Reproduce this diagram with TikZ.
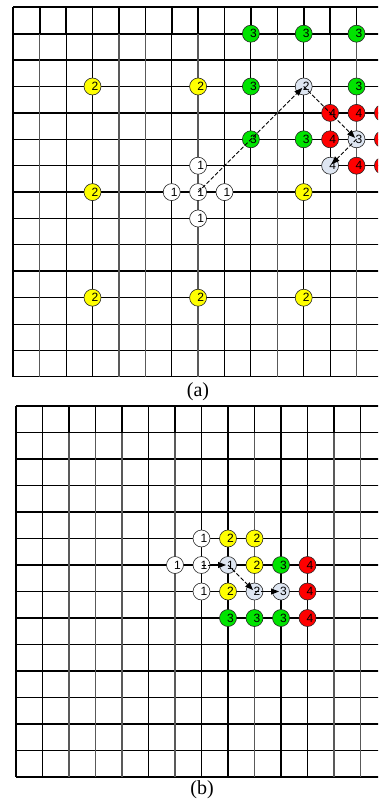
\documentclass[tikz,border=0pt]{standalone}
\usepackage{fontspec}
\setmainfont{Liberation Serif}
\newfontfamily\labfont{Liberation Sans}
\usetikzlibrary{arrows.meta}
\definecolor{cgreen}{RGB}{0,228,0}
\definecolor{cred}{RGB}{255,0,0}
\definecolor{cyel}{RGB}{255,255,0}
\definecolor{clight}{RGB}{222,230,242}
\tikzset{
  cell/.style={circle,draw=black!85,line width=0.6pt,minimum size=17pt,inner sep=0pt,
    font=\fontsize{12}{12}\selectfont\labfont,execute at begin node=\kern5pt},
  wcell/.style={cell,fill=white},
  ycell/.style={cell,fill=cyel},
  gcell/.style={cell,fill=cgreen},
  rcell/.style={cell,fill=cred},
  lcell/.style={cell,fill=clight},
  darkline/.style={black,line width=1.1pt},
  grayline/.style={black!65,line width=1.4pt},
  thickline/.style={black,line width=1.7pt},
  thinline/.style={black,line width=1.1pt},
  toprow/.style={black,line width=1.6pt},
  arr/.style={dash pattern=on 4pt off 2pt,line width=0.9pt,
    -{Triangle[length=8pt,width=6pt]},shorten >=2pt},
  captext/.style={font=\fontsize{20}{20}\selectfont}
}
\begin{document}
\begin{tikzpicture}[x=1pt,y=-1pt]
\useasboundingbox (0,0) rectangle (378,800);
\fill[white] (0,0) rectangle (378,800);
\clip (0,0) rectangle (378,800);

% ---------- grid (a) ----------
\begin{scope}[shift={(13.3pt,-7.3pt)},x=26.4pt,y=-26.4pt]
  \foreach \j in {3,5,6,8,9,11,12,14} \draw[thinline] (0,\j) -- (16,\j);
  \foreach \j in {0,1,2,4,7,10,13} \draw[thickline] (0,\j) -- (16,\j);
  \foreach \i in {2,3,6,8,9,11,12,14} \draw[darkline] (\i,0) -- (\i,14);
  \foreach \i in {1,4,5,7,10,13} \draw[grayline] (\i,0) -- (\i,14);
  \foreach \i in {1,...,14} \draw[toprow] (\i,0) -- (\i,1);
  \draw[black,line width=1.8pt] (0,0) -- (0,14);

  \foreach \i/\j in {3/3,7/3,3/7,11/7,3/11,7/11,11/11}
    \node[ycell] (a-\i-\j) at (\i,\j) {2};
  \foreach \i/\j in {9/1,11/1,13/1,9/3,13/3,9/5,11/5}
    \node[gcell] (a-\i-\j) at (\i,\j) {3};
  \foreach \i/\j in {12/4,13/4,12/5,13/6}
    \node[rcell] (a-\i-\j) at (\i,\j) {4};
  % red cells cut by the right edge (their labels lie outside the picture)
  \foreach \i/\j in {14/4,14/5,14/6}
    \node[rcell] (a-\i-\j) at (\i,\j) {};
  \foreach \i/\j in {7/6,6/7,7/7,8/7,7/8}
    \node[wcell] (a-\i-\j) at (\i,\j) {1};
  \node[lcell] (a-11-3) at (11,3) {2};
  \node[lcell] (a-13-5) at (13,5) {3};
  \node[lcell] (a-12-6) at (12,6) {4};

  \draw[arr] (a-7-7.center) -- (a-11-3.center);
  \draw[arr] (a-11-3.center) -- (a-13-5.center);
  \draw[arr] (a-13-5.center) -- (a-12-6.center);
\end{scope}

\node[captext] (capa) at (198,392) {(a)};

% ---------- grid (b) ----------
\begin{scope}[shift={(16pt,-406pt)},x=26.5pt,y=-26.5pt]
  \foreach \j in {4,5,8,10,11,13} \draw[thinline] (0,\j) -- (16,\j);
  \foreach \j in {0,1,2,3,6,7,9,12,14} \draw[thickline] (0,\j) -- (16,\j);
  \foreach \i in {1,5,7,8,10,11,14} \draw[darkline] (\i,0) -- (\i,14);
  \foreach \i in {2,3,4,6,9,12,13} \draw[grayline] (\i,0) -- (\i,14);
  \foreach \i in {1,...,14} \draw[toprow] (\i,0) -- (\i,1);
  \draw[black,line width=1.8pt] (0,0) -- (0,14);

  \foreach \i/\j in {7/5,6/6,7/6,7/7}
    \node[wcell] (b-\i-\j) at (\i,\j) {1};
  \foreach \i/\j in {8/5,9/5,9/6,8/7}
    \node[ycell] (b-\i-\j) at (\i,\j) {2};
  \foreach \i/\j in {10/6,8/8,9/8,10/8}
    \node[gcell] (b-\i-\j) at (\i,\j) {3};
  \foreach \i/\j in {11/6,11/7,11/8}
    \node[rcell] (b-\i-\j) at (\i,\j) {4};
  \node[lcell] (b-8-6) at (8,6) {1};
  \node[lcell] (b-9-7) at (9,7) {2};
  \node[lcell] (b-10-7) at (10,7) {3};

  \draw[arr] (b-7-6.center) -- (b-8-6.center);
  \draw[arr] (b-8-6.center) -- (b-9-7.center);
  \draw[arr] (b-9-7.center) -- (b-10-7.center);
\end{scope}

\node[captext] (capb) at (202,790) {(b)};
\end{tikzpicture}
\end{document}
